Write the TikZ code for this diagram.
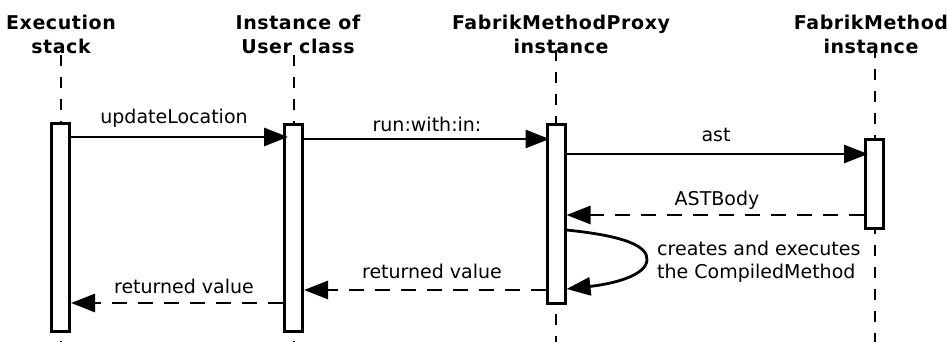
\documentclass[tikz,border=0pt]{standalone}
\usepackage{fontspec}
\setmainfont{DejaVu Sans}
\usetikzlibrary{arrows.meta,calc}
\begin{document}
\begin{tikzpicture}[x=1pt,y=-1pt,
  every node/.style={font=\fontsize{19}{23}\selectfont},
  head/.style={font=\fontsize{19}{24}\selectfont\bfseries\addfontfeatures{LetterSpace=3},align=center,inner sep=1pt},
  lifeline/.style={line width=2pt,dash pattern=on 11pt off 11pt},
  actbox/.style={draw,line width=3pt,fill=white,minimum width=18pt,inner sep=0pt},
  msg/.style={line width=2.8pt,-{Triangle[length=24pt,width=18pt]}},
  reply/.style={msg,dash pattern=on 15pt off 11pt},
  lbl/.style={inner sep=0pt}]
\useasboundingbox (0,0) rectangle (947,342);
% headers
\node[head] (h1) at (61,34) {Execution\\stack};
\node[head] (h2) at (298,34) {Instance of\\User class};
\node[head] (h3) at (561,34) {FabrikMethodProxy\\instance};
\node[head] (h4) at (871,34) {FabrikMethod\\instance};
% lifeline ends
\coordinate (e1) at (61,345);
\coordinate (e2) at (293.5,345);
\coordinate (e3) at (556,345);
\coordinate (e4) at (874.5,345);
\draw[lifeline] (h1.south -| e1) -- (e1);
\draw[lifeline] (h2.south -| e2) -- (e2);
\draw[lifeline] ([yshift=5pt]h3.south -| e3) -- (e3);
\draw[lifeline] ([yshift=8pt]h4.south -| e4) -- (e4);
% activation boxes
\node[actbox,minimum height=208pt] (a1) at (60.5,227.5) {};
\node[actbox,minimum height=207pt] (a2) at (293.5,228) {};
\node[actbox,minimum height=179pt] (a3) at (556,214) {};
\node[actbox,minimum height=89pt] (a4) at (874.5,184) {};
% message heights
\coordinate (m1) at (0,137);
\coordinate (m2) at (0,139);
\coordinate (m3) at (0,154);
\coordinate (m4) at (0,215);
\coordinate (m5) at (0,290);
\coordinate (m6) at (0,303);
% messages
\draw[msg] (a1.east |- m1) -- ([xshift=5pt]a2.west |- m1);
\draw[msg] (a2.east |- m2) -- ([xshift=4pt]a3.west |- m2);
\draw[msg] (a3.east |- m3) -- ([xshift=4pt]a4.west |- m3);
\draw[reply] (a4.west |- m4) -- (a3.east |- m4);
\draw[reply] (a3.west |- m5) -- (a2.east |- m5);
\draw[reply] (a2.west |- m6) -- (a1.east |- m6);
% self call
\coordinate (s1) at (0,230);
\coordinate (s2) at (0,289);
\draw[msg] (a3.east |- s1) .. controls (625,236) and (648,246) .. (647,260)
  .. controls (646,276) and (612,284) .. (a3.east |- s2);
% labels
\node[lbl] (l1) at (174,118) {updateLocation};
\node[lbl] (l2) at (427,124) {run:with:in:};
\node[lbl] (l3) at (716,135) {ast};
\node[lbl] (l4) at (717,200) {ASTBody};
\node[lbl,anchor=west,align=left] (l5) at (657,262) {creates and executes\\the CompiledMethod};
\node[lbl] (l6) at (432,271) {returned value};
\node[lbl] (l7) at (184,286) {returned value};
\end{tikzpicture}
\end{document}
